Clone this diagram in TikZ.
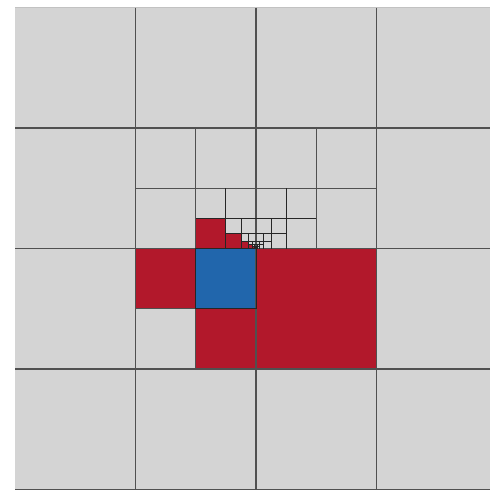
\documentclass[tikz,border=0pt]{standalone}
\definecolor{cellgray}{RGB}{212,212,212}
\definecolor{cellred}{RGB}{178,24,43}
\definecolor{cellblue}{RGB}{33,102,172}
\definecolor{gridline}{RGB}{80,80,80}
\begin{document}
\begin{tikzpicture}[x=1pt,y=-1pt,
  gridln/.style={draw=gridline,line width=1.1pt},
  fineln/.style={draw=black!85,line width=0.85pt},
  redcell/.style={fill=cellred},
  bluecell/.style={fill=cellblue}]
\useasboundingbox (0,0) rectangle (490,496);
\begin{scope}
\clip (0,0) rectangle (490,496);
% background of the top-level 4x4 grid
\fill[cellgray] (15,7.5) rectangle (497,489.5);
% red neighbours and blue cell
\fill[redcell] (135.5,248.5) rectangle (195.75,308.75);
\fill[redcell] (195.75,308.75) rectangle (256,369);
\fill[redcell] (256,248.5) rectangle (376.5,369);
\fill[bluecell] (195.75,248.5) rectangle (256,308.75);
\foreach \s in {60.25,30.125,15.0625,7.53125,3.765625,1.8828125}
  \fill[redcell] ({256-\s},{248.5-\s/2}) rectangle ({256-\s/2},248.5);
% top-level grid
\foreach \x in {135.5,256,376.5} \draw[gridln] (\x,7.5) -- (\x,489.5);
\foreach \y in {128,248.5,369,489.5} \draw[gridln] (15,\y) -- (497,\y);
\draw[gridln,draw opacity=0.35] (15,7.5) -- (497,7.5);
% refinement towards the point (256,248.5)
\draw[gridln] (195.75,128) -- (195.75,248.5);
\draw[gridln] (316.25,128) -- (316.25,248.5);
\draw[gridln] (135.5,188.25) -- (376.5,188.25);
\foreach \s in {60.25,30.125,15.0625,7.53125,3.765625,1.8828125}{
  \draw[fineln] ({256-\s/2},{248.5-\s}) -- ({256-\s/2},248.5);
  \draw[fineln] ({256+\s/2},{248.5-\s}) -- ({256+\s/2},248.5);
  \draw[fineln] ({256-\s},{248.5-\s/2}) -- ({256+\s},{248.5-\s/2});
}
% subdivision of the cell holding the blue cell
\draw[gridln] (195.75,248.5) -- (195.75,369);
\draw[gridln] (135.5,308.75) -- (256,308.75);
\draw[fineln] (195.75,248.5) rectangle (256,308.75);
\end{scope}
\end{tikzpicture}
\end{document}
